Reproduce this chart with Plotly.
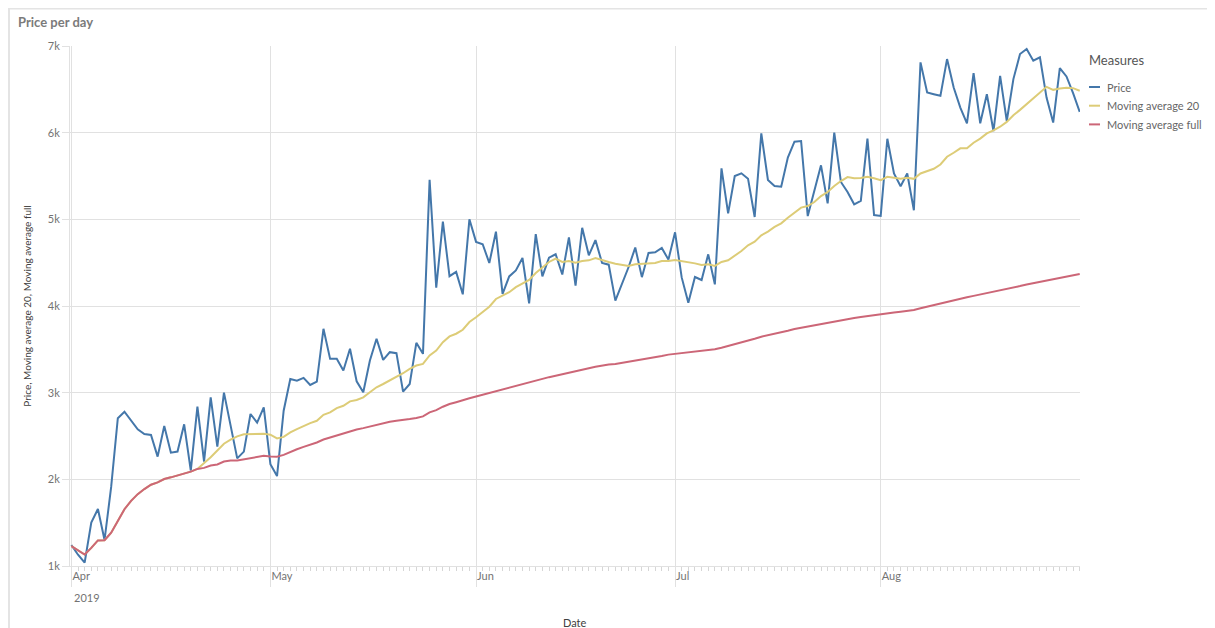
import pandas as pd
import plotly.graph_objects as go

# ---- data ----
start_date = "2019-04-01"
end_date = "2019-08-31"

price_apr = [1242, 1130, 1038, 1500, 1658, 1300, 1915, 2705, 2780, 2677,
             2577, 2523, 2512, 2262, 2616, 2308, 2320, 2635, 2100, 2838,
             2204, 2946, 2377, 3000, 2600, 2242, 2320, 2754, 2654, 2831]
price_may = [2175, 2038, 2792, 3158, 3139, 3170, 3089, 3127, 3737, 3390,
             3390, 3255, 3506, 3131, 3004, 3371, 3622, 3378, 3467, 3456,
             3012, 3100, 3575, 3448, 5456, 4212, 4973, 4344, 4394, 4135, 5000]
price_jun = [4740, 4713, 4496, 4857, 4140, 4341, 4411, 4554, 4031, 4829,
             4341, 4558, 4597, 4364, 4791, 4236, 4903, 4585, 4760, 4496,
             4477, 4062, 4250, 4450, 4674, 4333, 4612, 4620, 4670, 4535]
price_jul = [4850, 4330, 4038, 4335, 4300, 4596, 4250, 5588, 5069, 5500,
             5531, 5469, 5027, 5992, 5454, 5385, 5377, 5712, 5896, 5904,
             5038, 5338, 5623, 5185, 6000, 5431, 5315, 5173, 5212, 5931, 5050]
price_aug = [5040, 5930, 5529, 5382, 5529, 5104, 6811, 6463, 6444, 6425,
             6849, 6521, 6290, 6108, 6687, 6108, 6444, 6019, 6656, 6135,
             6618, 6907, 6965, 6830, 6869, 6405, 6116, 6745, 6649, 6456, 6239]

ma20_apr = [1229, 1178, 1132, 1209, 1295, 1298, 1384, 1519, 1655, 1752,
            1829, 1888, 1938, 1965, 2004, 2023, 2043, 2070, 2089, 2120,
            2186, 2256, 2333, 2411, 2457, 2496, 2519, 2519, 2519, 2527]
ma20_may = [2515, 2472, 2490, 2541, 2579, 2618, 2649, 2676, 2745, 2772,
            2822, 2849, 2900, 2915, 2946, 3004, 3062, 3100, 3139, 3178,
            3224, 3274, 3313, 3332, 3429, 3486, 3583, 3649, 3680, 3726, 3815]
ma20_jun = [3870, 3926, 3992, 4081, 4120, 4159, 4217, 4264, 4302, 4380,
            4442, 4508, 4547, 4508, 4519, 4500, 4519, 4527, 4554, 4527,
            4508, 4488, 4477, 4461, 4481, 4488, 4496, 4496, 4519, 4519]
ma20_jul = [4531, 4519, 4500, 4492, 4473, 4481, 4462, 4508, 4527, 4577,
            4635, 4700, 4742, 4815, 4858, 4912, 4954, 5019, 5077, 5135,
            5154, 5200, 5269, 5315, 5385, 5442, 5488, 5473, 5477, 5492, 5473]
ma20_aug = [5452, 5490, 5479, 5467, 5479, 5467, 5529, 5556, 5583, 5633,
            5722, 5768, 5819, 5819, 5884, 5931, 5992, 6027, 6069, 6124,
            6201, 6263, 6328, 6394, 6463, 6529, 6494, 6510, 6517, 6514, 6483]

mafull_apr = [1229, 1178, 1132, 1209, 1295, 1298, 1384, 1519, 1655, 1752,
              1829, 1888, 1938, 1965, 2004, 2023, 2043, 2070, 2089, 2120,
              2132, 2159, 2171, 2205, 2217, 2217, 2229, 2244, 2256, 2271]
mafull_may = [2264, 2260, 2282, 2317, 2347, 2374, 2398, 2425, 2459, 2483,
              2510, 2533, 2560, 2575, 2591, 2610, 2629, 2649, 2664, 2676,
              2683, 2695, 2707, 2726, 2772, 2799, 2838, 2869, 2890, 2915, 2935]
mafull_jun = [2955, 2975, 2996, 3023, 3042, 3061, 3084, 3103, 3118, 3141,
              3160, 3179, 3195, 3214, 3229, 3248, 3267, 3282, 3298, 3313,
              3324, 3332, 3344, 3359, 3370, 3382, 3393, 3408, 3424, 3439]
mafull_jul = [3448, 3456, 3462, 3473, 3481, 3488, 3500, 3519, 3538, 3562,
              3585, 3604, 3623, 3646, 3662, 3677, 3696, 3715, 3735, 3750,
              3762, 3777, 3792, 3808, 3823, 3838, 3850, 3862, 3873, 3885, 3896]
mafull_aug = [3907, 3914, 3926, 3934, 3942, 3953, 3973, 3992, 4012, 4031,
              4051, 4070, 4086, 4101, 4117, 4132, 4148, 4163, 4179, 4195,
              4210, 4230, 4249, 4265, 4280, 4296, 4307, 4323, 4339, 4354, 4370]

series_names = ["Price", "Moving average 20", "Moving average full"]
series_colors = ["#4477aa", "#ddcc77", "#cc6677"]
legend_title = "Measures"
x_title = "Date"
y_title = "Price, Moving average 20, Moving average full"
y_tick_values = [1000, 2000, 3000, 4000, 5000, 6000, 7000]
y_tick_labels = ["1k", "2k", "3k", "4k", "5k", "6k", "7k"]

dates = pd.date_range(start_date, end_date, freq="D")
price = price_apr + price_may + price_jun + price_jul + price_aug
ma20 = ma20_apr + ma20_may + ma20_jun + ma20_jul + ma20_aug
mafull = mafull_apr + mafull_may + mafull_jun + mafull_jul + mafull_aug

FONT = "Lato, 'Open Sans', sans-serif"
GRID = "#e1e1e1"
LABEL = "#737373"

# page has an 8px body margin: plot area placed to match the reference
W, H = 1199, 630
PL, PT, PW, PH = 62, 38, 1010, 520   # plot area in figure pixels


def px(sx):  # screen x -> paper
    return (sx - 8 - PL) / PW


def py(sy):  # screen y -> paper
    return (PT + PH - (sy - 8)) / PH


fig = go.Figure()
for name, vals, col in zip(series_names, [price, ma20, mafull], series_colors):
    fig.add_trace(go.Scatter(x=dates, y=vals, mode="lines", name=name,
                             line=dict(color=col, width=2), showlegend=False))

fig.update_layout(
    width=W, height=H,
    margin=dict(l=PL, r=W - PL - PW, t=PT, b=H - PT - PH, autoexpand=False),
    paper_bgcolor="white", plot_bgcolor="white",
    font=dict(family=FONT, size=11, color=LABEL),
    title=dict(text="<b>Price per day</b>", xref="container", yref="container",
               x=10 / W, xanchor="left", y=1 - 14 / H, yanchor="middle",
               font=dict(family=FONT, size=13, color="#7b7b7b")),
    showlegend=False,
    xaxis=dict(type="date",
               range=["2019-03-31 19:00", "2019-08-31 01:00"],
               dtick="M1", tick0="2019-04-01", tickformat="%b",
               ticks="outside", ticklen=20, tickcolor=GRID, tickwidth=1,
               ticklabelposition="outside right", ticklabelstandoff=0,
               showgrid=True, gridcolor=GRID, gridwidth=1,
               showline=True, linecolor=GRID, linewidth=1,
               zeroline=False,
               minor=dict(dtick=86400000, ticks="outside", ticklen=4,
                          tickcolor="#d6d6d6", showgrid=False),
               tickfont=dict(size=11, color=LABEL)),
    yaxis=dict(range=[1000, 7000], tickvals=y_tick_values, ticktext=y_tick_labels,
               ticks="outside", ticklen=7, tickcolor=GRID,
               showgrid=True, gridcolor=GRID, gridwidth=1,
               showline=True, linecolor=GRID, linewidth=1,
               zeroline=False,
               tickfont=dict(size=11, color=LABEL),
               title=dict(text=y_title,
                          standoff=14, font=dict(size=10, color="#404040"))),
)

# x-axis title
fig.add_annotation(x=0.5, y=py(622), xref="paper", yref="paper", text=x_title,
                   showarrow=False, xanchor="center", yanchor="middle",
                   font=dict(size=11, color="#404040"))

fig.add_annotation(x="2019-04-01", y=0, xref="x", yref="paper", text="2019",
                   showarrow=False, xanchor="left", yanchor="top",
                   xshift=1, yshift=-23, font=dict(size=11, color=LABEL))

# legend (drawn as text + short keys, like the reference)
fig.add_annotation(x=px(1087), y=py(60), xref="paper", yref="paper",
                   text=legend_title, showarrow=False, xanchor="left",
                   yanchor="middle", font=dict(size=13, color="#555555"))
for i, (name, col) in enumerate(zip(series_names, series_colors)):
    sy = 87 + i * 18.7
    fig.add_shape(type="line", xref="paper", yref="paper",
                  x0=px(1089), x1=px(1100), y0=py(sy), y1=py(sy),
                  line=dict(color=col, width=2))
    fig.add_annotation(x=px(1105), y=py(sy), xref="paper", yref="paper",
                       text=name, showarrow=False, xanchor="left",
                       yanchor="middle", font=dict(size=11, color="#666666"))

# outer frame
fig.add_shape(type="rect", xref="paper", yref="paper",
              x0=px(9), x1=px(1240), y0=py(680), y1=py(8.5),
              line=dict(color="#e4e4e4", width=2), fillcolor="rgba(0,0,0,0)",
              layer="below")

fig.write_html("out.html")
